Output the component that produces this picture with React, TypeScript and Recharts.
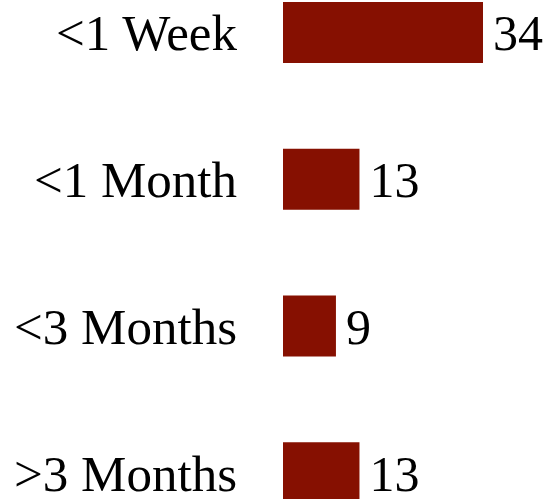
import { BarChart, Bar, XAxis, YAxis, LabelList } from 'recharts'

const categories = ['<1 Week', '<1 Month', '<3 Months', '>3 Months']
const counts = [34, 13, 9, 13]

const data = categories.map((name, i) => ({ name, count: counts[i] }))

const font = '"Liberation Serif", "DejaVu Serif", serif'

export default function App() {
  return (
    <div style={{ position: 'absolute', left: 0, top: 0, width: 548, height: 499, overflow: 'hidden', background: '#fff' }}>
      <div style={{ marginTop: -41 }}>
        <BarChart
          width={548}
          height={587}
          data={data}
          layout="vertical"
          margin={{ top: 0, right: 65, bottom: 0, left: 0 }}
        >
          <XAxis type="number" domain={[0, 34]} hide />
          <YAxis
            type="category"
            dataKey="name"
            width={283}
            axisLine={false}
            tickLine={false}
            tickSize={0}
            tickMargin={46}
            tick={{ fontSize: 51, fill: '#000', fontFamily: font }}
          />
          <Bar dataKey="count" fill="#861001" barSize={61} isAnimationActive={false}>
            <LabelList
              dataKey="count"
              position="right"
              offset={10}
              style={{ fontSize: 50, fill: '#000', fontFamily: font }}
            />
          </Bar>
        </BarChart>
      </div>
    </div>
  )
}
